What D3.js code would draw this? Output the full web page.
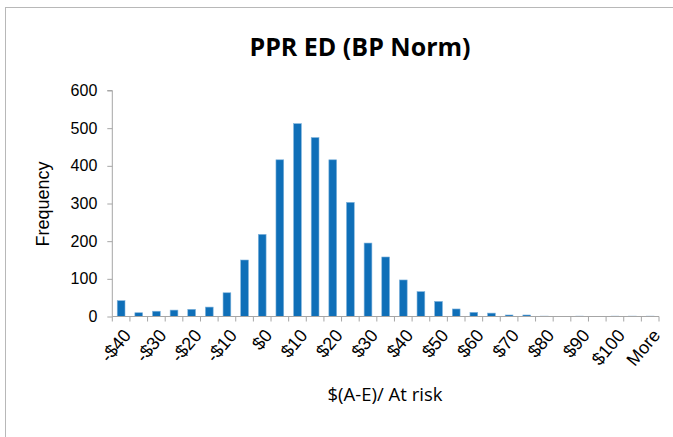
<!DOCTYPE html>
<html>
<head>
<meta charset="utf-8">
<script src="https://cdn.jsdelivr.net/npm/d3@7"></script>
<style>
  html, body { margin: 0; padding: 0; background: #fff; }
  svg { display: block; }
</style>
</head>
<body>
<script>
// ---- data ----
const categories = ["-$40","-$35","-$30","-$25","-$20","-$15","-$10","-$5","$0","$5","$10","$15","$20","$25","$30","$35","$40","$45","$50","$55","$60","$65","$70","$75","$80","$85","$90","$95","$100","$105","More"];
const frequency = [42,10,14,17,19,25,63,150,218,416,512,475,416,303,195,158,97,66,40,20,11,9,4,4,1,0,1,0,1,1,1];
const yTicks = [0,100,200,300,400,500,600];
const chartTitle = "PPR ED (BP Norm)";
const xTitle = "$(A-E)/ At risk";
const yTitle = "Frequency";

const W = 673, H = 437;
const svg = d3.select("body").append("svg").attr("width", W).attr("height", H);

// chart frame
svg.append("rect").attr("x", 5.5).attr("y", 7.5).attr("width", 720).attr("height", 500)
  .attr("fill", "none").attr("stroke", "#b8b8b8").attr("stroke-width", 1);

const x = d3.scaleBand().domain(categories).range([112.3, 659]).paddingInner(0.56).paddingOuter(0.28);
const y = d3.scaleLinear().domain([0, 600]).range([316.5, 90.5]);

const axisColor = "#a6a6a6";

// bars
svg.append("g").selectAll("rect").data(frequency).join("rect")
  .attr("x", (d, i) => x(categories[i]))
  .attr("y", d => y(d))
  .attr("width", x.bandwidth())
  .attr("height", d => y(0) - y(d))
  .attr("fill", "#0F6FB8")
  .attr("stroke", "#7fb3dc").attr("stroke-width", 0.6);

// y axis
const yAxis = svg.append("g").attr("transform", "translate(112.3,0)")
  .call(d3.axisLeft(y).tickValues(yTicks).tickSize(5).tickPadding(10));
yAxis.select(".domain").attr("stroke", axisColor).attr("d", `M-5,${y(600)}H0V${y(0)}`);
yAxis.selectAll(".tick line").attr("stroke", axisColor);
yAxis.selectAll(".tick text").attr("font-family", "Liberation Sans, Arial, sans-serif").attr("font-size", 16).attr("fill", "#000");

// x axis line and boundary ticks
const x0 = x.range()[0], step = x.step();
const gx = svg.append("g");
gx.append("line").attr("x1", x0).attr("x2", x.range()[1]).attr("y1", y(0)).attr("y2", y(0)).attr("stroke", axisColor);
gx.selectAll("line.tk").data(d3.range(categories.length + 1)).join("line").attr("class", "tk")
  .attr("x1", i => x0 + i * step).attr("x2", i => x0 + i * step)
  .attr("y1", y(0)).attr("y2", y(0) + 5).attr("stroke", axisColor);

// x tick labels (every other category)
gx.selectAll("text").data(categories.filter((c, i) => i % 2 === 0)).join("text")
  .attr("transform", c => `translate(${x(c) + x.bandwidth() / 2 + 1},${y(0) + 11}) rotate(-50)`)
  .attr("text-anchor", "end")
  .attr("dy", "0.72em")
  .attr("font-family", "Liberation Sans, Arial, sans-serif").attr("font-size", 18).attr("fill", "#000")
  .text(c => c);

// titles
svg.append("text").attr("x", 360).attr("y", 56).attr("text-anchor", "middle")
  .attr("font-family", "Open Sans, sans-serif").attr("font-weight", "bold").attr("font-size", 25).attr("fill", "#000")
  .text(chartTitle);
svg.append("text").attr("x", 385).attr("y", 401).attr("text-anchor", "middle")
  .attr("font-family", "Open Sans, sans-serif").attr("font-size", 18.5).attr("fill", "#000")
  .text(xTitle);
svg.append("text").attr("transform", "translate(49,204) rotate(-90)").attr("text-anchor", "middle")
  .attr("font-family", "Liberation Sans, Arial, sans-serif").attr("font-size", 18).attr("fill", "#000")
  .text(yTitle);
</script>
</body>
</html>
